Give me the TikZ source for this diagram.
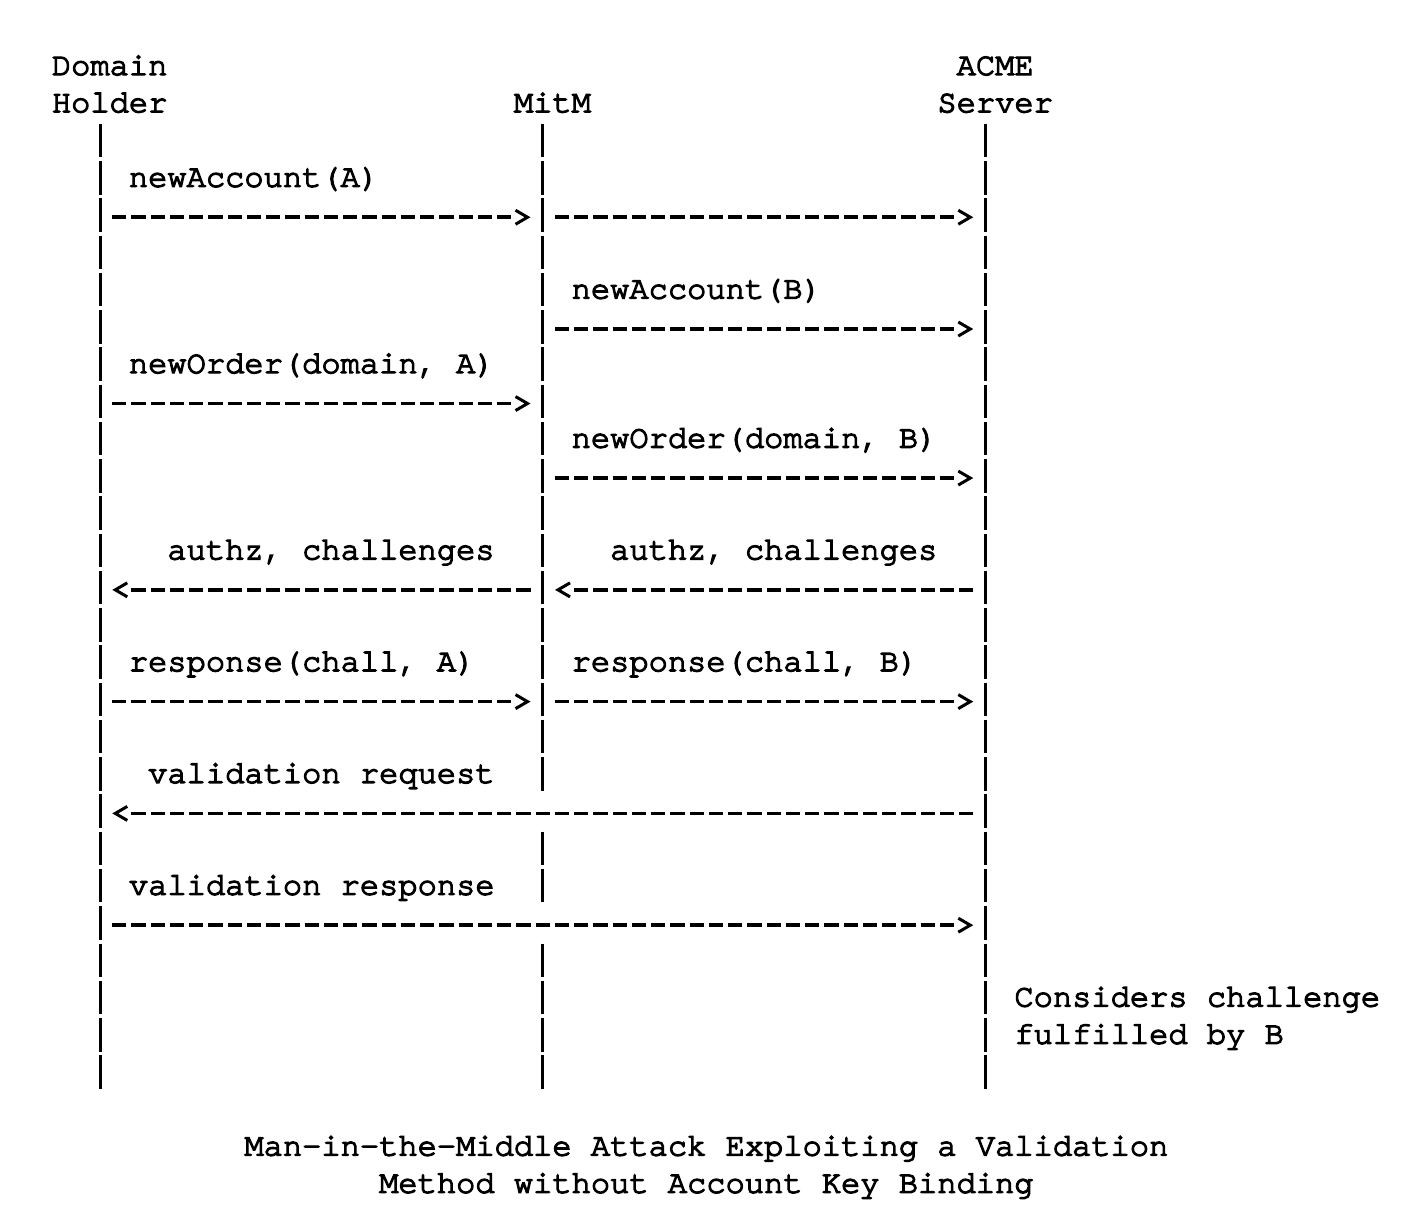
\documentclass[tikz,border=0pt]{standalone}
\usepackage{fontspec}
\newfontfamily\asciifont{texgyrecursor-regular.otf}[FakeBold=4,Ligatures={NoCommon}]
\usetikzlibrary{decorations.markings}
\newcommand{\colx}[1]{51.9+19.25*(#1)}
\newcommand{\rowy}[1]{66+37.26*(#1)}
\begin{document}
\begin{tikzpicture}[x=1pt,y=-1pt,
  txt/.style={anchor=base west, inner sep=0pt, outer sep=0pt,
    font=\asciifont\fontsize{32.08}{37.26}\selectfont},
  lifeline/.style={line width=3pt, dash pattern=on 33.5pt off 3.76pt},
  msg/.style={line width=3.5pt, dash pattern=on 14.25pt off 5pt,
    postaction={decorate},
    decoration={markings, mark=at position 1 with {
      \draw[solid, line width=3pt, line join=miter]
        (4.125pt,7pt) -- (16.125pt,0pt) -- (4.125pt,-7pt);}}}
]
\fill[white] (0,0) rectangle (1426,1226);
\useasboundingbox (0,0) rectangle (1426,1226);

% participants
\node[txt] (dom)  at ({\colx{0}},{\rowy{0}+9}) {Domain};
\node[txt] (hold) at ({\colx{0}},{\rowy{1}+9}) {Holder};
\node[txt] (mitm) at ({\colx{24}},{\rowy{1}+9}) {MitM};
\node[txt] (acme) at ({\colx{47}},{\rowy{0}+9}) {ACME};
\node[txt] (serv) at ({\colx{46}},{\rowy{1}+9}) {Server};

% lifeline coordinates
\coordinate (dTop) at ({\colx{2.5}},{\rowy{2}-16.75});
\coordinate (dBot) at ({\colx{2.5}},{\rowy{27}+16.75});
\coordinate (mTop) at ({\colx{25.5}},{\rowy{2}-16.75});
\coordinate (mA)   at ({\colx{25.5}},{\rowy{19}+16.75});
\coordinate (mB)   at ({\colx{25.5}},{\rowy{21}-16.75});
\coordinate (mC)   at ({\colx{25.5}},{\rowy{22}+16.75});
\coordinate (mD)   at ({\colx{25.5}},{\rowy{24}-16.75});
\coordinate (mBot) at ({\colx{25.5}},{\rowy{27}+16.75});
\coordinate (aTop) at ({\colx{48.5}},{\rowy{2}-16.75});
\coordinate (aBot) at ({\colx{48.5}},{\rowy{27}+16.75});

\draw[lifeline] (dTop) -- (dBot);
\draw[lifeline] (mTop) -- (mA);
\draw[lifeline] (mB) -- (mC);
\draw[lifeline] (mD) -- (mBot);
\draw[lifeline] (aTop) -- (aBot);

% message labels
\node[txt] (l1) at ({\colx{4}},{\rowy{3}+9}) {newAccount(A)};
\node[txt] (l2) at ({\colx{27}},{\rowy{6}+9}) {newAccount(B)};
\node[txt] (l3) at ({\colx{4}},{\rowy{8}+9}) {newOrder(domain, A)};
\node[txt] (l4) at ({\colx{27}},{\rowy{10}+9}) {newOrder(domain, B)};
\node[txt] (l5) at ({\colx{6}},{\rowy{13}+9}) {authz, challenges};
\node[txt] (l6) at ({\colx{29}},{\rowy{13}+9}) {authz, challenges};
\node[txt] (l7) at ({\colx{4}},{\rowy{16}+9}) {response(chall, A)};
\node[txt] (l8) at ({\colx{27}},{\rowy{16}+9}) {response(chall, B)};
\node[txt] (l9) at ({\colx{5}},{\rowy{19}+9}) {validation request};
\node[txt] (l10) at ({\colx{4}},{\rowy{22}+9}) {validation response};
\node[txt] (n1) at ({\colx{50}},{\rowy{25}+9}) {Considers challenge};
\node[txt] (n2) at ({\colx{50}},{\rowy{26}+9}) {fulfilled by B};

% message end points
\coordinate (a1s) at ({\colx{3.5}-7.125},{\rowy{4}+2.2});
\coordinate (a1e) at ({\colx{23.5}+7.125},{\rowy{4}+2.2});
\coordinate (a2s) at ({\colx{26.5}-7.125},{\rowy{4}+2.2});
\coordinate (a2e) at ({\colx{46.5}+7.125},{\rowy{4}+2.2});
\coordinate (a3s) at ({\colx{26.5}-7.125},{\rowy{7}+2.2});
\coordinate (a3e) at ({\colx{46.5}+7.125},{\rowy{7}+2.2});
\coordinate (a4s) at ({\colx{3.5}-7.125},{\rowy{9}+2.2});
\coordinate (a4e) at ({\colx{23.5}+7.125},{\rowy{9}+2.2});
\coordinate (a5s) at ({\colx{26.5}-7.125},{\rowy{11}+2.2});
\coordinate (a5e) at ({\colx{46.5}+7.125},{\rowy{11}+2.2});
\coordinate (a6s) at ({\colx{24.5}+7.125},{\rowy{14}+2.2});
\coordinate (a6e) at ({\colx{4.5}-7.125},{\rowy{14}+2.2});
\coordinate (a7s) at ({\colx{47.5}+7.125},{\rowy{14}+2.2});
\coordinate (a7e) at ({\colx{27.5}-7.125},{\rowy{14}+2.2});
\coordinate (a8s) at ({\colx{3.5}-7.125},{\rowy{17}+2.2});
\coordinate (a8e) at ({\colx{23.5}+7.125},{\rowy{17}+2.2});
\coordinate (a9s) at ({\colx{26.5}-7.125},{\rowy{17}+2.2});
\coordinate (a9e) at ({\colx{46.5}+7.125},{\rowy{17}+2.2});
\coordinate (a10s) at ({\colx{47.5}+7.125},{\rowy{20}+2.2});
\coordinate (a10e) at ({\colx{4.5}-7.125},{\rowy{20}+2.2});
\coordinate (a11s) at ({\colx{3.5}-7.125},{\rowy{23}+2.2});
\coordinate (a11e) at ({\colx{46.5}+7.125},{\rowy{23}+2.2});

\foreach \i in {1,...,11} \draw[msg] (a\i s) -- (a\i e);

% caption
\node[txt] (cap1) at ({\colx{10}},{\rowy{29}+9}) {Man-in-the-Middle Attack Exploiting a Validation};
\node[txt] (cap2) at ({\colx{17}},{\rowy{30}+9}) {Method without Account Key Binding};
\end{tikzpicture}
\end{document}
